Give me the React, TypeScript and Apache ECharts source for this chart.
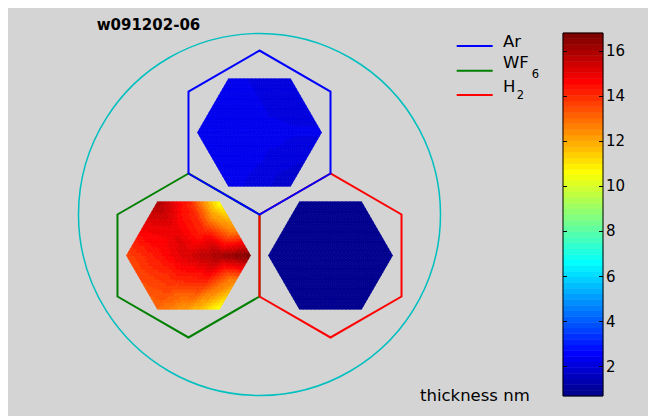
import React, { useEffect, useRef } from "react";
import * as echarts from "echarts";

// ---------------- data ----------------
const titleText = "w091202-06";
const unitLabel = "thickness nm";
const zoneNames = ["Ar", "WF6", "H2"];

// thickness (nm) on a 19-point hexagonal lattice of each filled hexagon,
// rows top -> bottom (3,4,5,4,3 points), each row left -> right
const arThickness = [
  [2.3, 2.15, 2.05],
  [2.3, 2.3, 2.15, 2.1],
  [2.3, 2.3, 2.3, 2.25, 2.25],
  [2.3, 2.3, 2.15, 1.95],
  [2.3, 2.1, 1.7],
];
const wf6Thickness = [
  [16.0, 14.2, 10.5],
  [14.8, 15.0, 14.0, 12.3],
  [13.6, 14.4, 15.3, 16.1, 16.8],
  [13.5, 13.9, 14.1, 12.3],
  [13.0, 12.2, 10.5],
];
const h2Thickness = [
  [0.8, 0.8, 0.8],
  [0.8, 0.8, 0.8, 0.8],
  [0.8, 0.8, 0.75, 0.8, 0.8],
  [0.8, 0.8, 0.8, 0.8],
  [0.8, 0.8, 0.7],
];
const colorbarTicks = [2, 4, 6, 8, 10, 12, 14, 16];

// ---------------- geometry & styles ----------------
const SQ3 = Math.sqrt(3);
const WAFER_R = 100;
const OUTLINE_R = 45.3;
const FILL_R = 34.25;
const ZONE_ANGLE: Record<string, number> = { Ar: 90, WF6: 210, H2: 330 };
const ZONE_COLOR: Record<string, string> = { Ar: "#0000ff", WF6: "#008000", H2: "#ff0000" };
const ZONE_Z: Record<string, number> = { Ar: 6, WF6: 4, H2: 5 };
const ZONE_VALUES: Record<string, number[][]> = { Ar: arThickness, WF6: wf6Thickness, H2: h2Thickness };
const FONT = '"DejaVu Sans", sans-serif';

const allValues = [arThickness, wf6Thickness, h2Thickness].flat(2);
const cmin = Math.min(...allValues);
const cmax = Math.max(...allValues);

function jet64(i: number): string {
  const B = i <= 8 ? (8 + i) / 16 : i <= 24 ? 1 : i <= 39 ? (40 - i) / 16 : 0;
  const G = i <= 8 ? 0 : i <= 24 ? (i - 8) / 16 : i <= 40 ? 1 : i <= 55 ? (56 - i) / 16 : 0;
  const R = i <= 24 ? 0 : i <= 40 ? (i - 24) / 16 : i <= 56 ? 1 : (72 - i) / 16;
  return `rgb(${Math.round(R * 255)},${Math.round(G * 255)},${Math.round(B * 255)})`;
}
function colorOf(v: number): string {
  let i = Math.floor(((v - cmin) / (cmax - cmin)) * 64) + 1;
  i = Math.max(1, Math.min(64, i));
  return jet64(i);
}

function zoneCenter(name: string): number[] {
  const a = (ZONE_ANGLE[name] * Math.PI) / 180;
  return [OUTLINE_R * Math.cos(a), OUTLINE_R * Math.sin(a)];
}

function buildTriangles(center: number[], rows: number[][]): number[][] {
  const r = FILL_R;
  const e1 = [r / 2, 0];
  const e2 = [r / 4, (r * SQ3) / 4];
  const inHex = (a: number, b: number) => Math.max(Math.abs(a), Math.abs(b), Math.abs(a + b)) <= 2;
  const pt = (a: number, b: number) => [
    center[0] + a * e1[0] + b * e2[0],
    center[1] + a * e1[1] + b * e2[1],
    rows[2 - b][a - Math.max(-2, -2 - b)],
  ];
  const tris: number[][] = [];
  for (let b = -2; b <= 2; b++) {
    for (let a = -2; a <= 2; a++) {
      if (inHex(a, b) && inHex(a + 1, b) && inHex(a, b + 1))
        tris.push([...pt(a, b), ...pt(a + 1, b), ...pt(a, b + 1)]);
      if (inHex(a + 1, b) && inHex(a + 1, b + 1) && inHex(a, b + 1))
        tris.push([...pt(a + 1, b), ...pt(a + 1, b + 1), ...pt(a, b + 1)]);
    }
  }
  return tris;
}

function meshRender(params: any, api: any) {
  const P = [0, 1, 2].map((k) => api.coord([api.value(3 * k), api.value(3 * k + 1)]));
  const V = [0, 1, 2].map((k) => api.value(3 * k + 2));
  const n = 8;
  const at = (i: number, j: number) => [
    P[0][0] + ((P[1][0] - P[0][0]) * i) / n + ((P[2][0] - P[0][0]) * j) / n,
    P[0][1] + ((P[1][1] - P[0][1]) * i) / n + ((P[2][1] - P[0][1]) * j) / n,
  ];
  const val = (u: number, w: number) => V[0] + ((V[1] - V[0]) * u) / n + ((V[2] - V[0]) * w) / n;
  const children: any[] = [];
  const add = (pts: number[][], v: number) => {
    const c = colorOf(v);
    children.push({ type: "polygon", shape: { points: pts }, style: { fill: c, stroke: c, lineWidth: 0.7 } });
  };
  for (let i = 0; i < n; i++) {
    for (let j = 0; i + j < n; j++) {
      add([at(i, j), at(i + 1, j), at(i, j + 1)], val(i + 1 / 3, j + 1 / 3));
      if (i + j <= n - 2) add([at(i + 1, j), at(i + 1, j + 1), at(i, j + 1)], val(i + 2 / 3, j + 2 / 3));
    }
  }
  return { type: "group", children };
}

function outlineRender(name: string) {
  return (params: any, api: any) => {
    const cx = api.value(0);
    const cy = api.value(1);
    const pts: number[][] = [];
    for (let k = 0; k < 6; k++) {
      const a = ((90 + 60 * k) * Math.PI) / 180;
      pts.push(api.coord([cx + OUTLINE_R * Math.cos(a), cy + OUTLINE_R * Math.sin(a)]));
    }
    return {
      type: "polygon",
      shape: { points: pts },
      style: { fill: "none", stroke: ZONE_COLOR[name], lineWidth: 2, lineJoin: "miter" },
    };
  };
}

function waferRender(params: any, api: any) {
  const c = api.coord([api.value(0), api.value(1)]);
  const rad = api.size([api.value(2), 0])[0];
  return {
    type: "circle",
    shape: { cx: c[0], cy: c[1], r: rad },
    style: { fill: "none", stroke: "#00bfbf", lineWidth: 1.5 },
  };
}

function colorbarRender(params: any, api: any) {
  const lo = api.value(1);
  const hi = api.value(3);
  const children: any[] = [];
  const step = (hi - lo) / 64;
  for (let k = 0; k < 64; k++) {
    const p1 = api.coord([0, lo + k * step]);
    const p2 = api.coord([1, lo + (k + 1) * step]);
    const c = jet64(k + 1);
    children.push({
      type: "rect",
      shape: { x: p1[0], y: p2[1], width: p2[0] - p1[0], height: p1[1] - p2[1] },
      style: { fill: c, stroke: c, lineWidth: 0.5 },
    });
  }
  const a = api.coord([0, hi]);
  const b = api.coord([1, lo]);
  children.push({
    type: "rect",
    shape: { x: a[0], y: a[1], width: b[0] - a[0], height: b[1] - a[1] },
    style: { fill: "none", stroke: "#000", lineWidth: 1 },
  });
  return { type: "group", children };
}

function buildOption() {
  const series: any[] = [
    {
      type: "custom",
      name: "wafer",
      xAxisIndex: 0,
      yAxisIndex: 0,
      data: [[0, 0, WAFER_R]],
      renderItem: waferRender,
      z: 2,
      silent: true,
    },
  ];
  zoneNames.forEach((name) => {
    series.push({
      type: "custom",
      name,
      xAxisIndex: 0,
      yAxisIndex: 0,
      data: buildTriangles(zoneCenter(name), ZONE_VALUES[name]),
      renderItem: meshRender,
      z: 3,
      silent: true,
    });
  });
  zoneNames.forEach((name) => {
    series.push({
      type: "custom",
      name: name + " outline",
      xAxisIndex: 0,
      yAxisIndex: 0,
      data: [zoneCenter(name)],
      renderItem: outlineRender(name),
      z: ZONE_Z[name],
      silent: true,
    });
  });
  series.push({
    type: "custom",
    name: "colorbar",
    xAxisIndex: 1,
    yAxisIndex: 1,
    data: [[0, cmin, 1, cmax]],
    renderItem: colorbarRender,
    z: 2,
    silent: true,
  });

  const tickStyle = { show: true, inside: true, length: 4, customValues: colorbarTicks, lineStyle: { color: "#000", width: 1 } };

  const legendY = [38, 62.7, 87];
  const graphics: any[] = [
    {
      type: "text",
      x: 88.7,
      y: 16.5,
      style: { text: titleText, fill: "#000", font: `bold 15px ${FONT}`, textVerticalAlign: "middle", verticalAlign: "middle" },
    },
    {
      type: "text",
      x: 412,
      y: 387,
      style: { text: unitLabel, fill: "#000", font: `16.5px ${FONT}`, textVerticalAlign: "middle", verticalAlign: "middle" },
    },
  ];
  const legendMain = ["Ar", "WF", "H"];
  const legendSub = ["", "6", "2"];
  const legendMainY = [33.2, 54.5, 78.8];
  const legendSubX = [0, 523.7, 508.7];
  const legendSubY = [0, 66.2, 87.3];
  zoneNames.forEach((name, k) => {
    graphics.push({
      type: "line",
      shape: { x1: 448.7, y1: legendY[k], x2: 484.7, y2: legendY[k] },
      style: { stroke: ZONE_COLOR[name], lineWidth: 2 },
    });
    graphics.push({
      type: "text",
      x: 495,
      y: legendMainY[k],
      style: { text: legendMain[k], fill: "#000", font: `16.5px ${FONT}`, textVerticalAlign: "middle", verticalAlign: "middle" },
    });
    if (legendSub[k]) {
      graphics.push({
        type: "text",
        x: legendSubX[k],
        y: legendSubY[k],
        style: { text: legendSub[k], fill: "#000", font: `11.5px ${FONT}`, textVerticalAlign: "middle", verticalAlign: "middle" },
      });
    }
  });

  return {
    animation: false,
    backgroundColor: "#d4d4d4",
    grid: [
      { left: 16.2, top: 7.4, width: 470.6, height: 398.2 },
      { left: 555, top: 25, width: 40, height: 363 },
    ],
    xAxis: [
      { gridIndex: 0, type: "value", min: -130, max: 130, show: false },
      { gridIndex: 1, type: "value", min: 0, max: 1, show: false },
    ],
    yAxis: [
      { gridIndex: 0, type: "value", min: -110, max: 110, show: false },
      {
        gridIndex: 1,
        type: "value",
        min: cmin,
        max: cmax,
        position: "left",
        z: 10,
        axisLine: { show: false },
        splitLine: { show: false },
        axisTick: tickStyle,
        axisLabel: { show: false },
      },
      {
        gridIndex: 1,
        type: "value",
        min: cmin,
        max: cmax,
        position: "right",
        z: 10,
        axisLine: { show: false },
        splitLine: { show: false },
        axisTick: tickStyle,
        axisLabel: {
          show: true,
          customValues: colorbarTicks,
          margin: 3,
          color: "#000",
          fontSize: 15,
          fontFamily: FONT,
          formatter: (v: number) => String(v),
        },
      },
    ],
    series,
    graphic: { elements: graphics },
  };
}

export default function App() {
  const ref = useRef<HTMLDivElement>(null);
  useEffect(() => {
    if (!ref.current) return;
    const chart = echarts.init(ref.current, undefined, { renderer: "svg" });
    chart.setOption(buildOption() as any);
    return () => chart.dispose();
  }, []);
  return <div ref={ref} style={{ position: "absolute", left: 8, top: 8, width: 640, height: 408 }} />;
}
